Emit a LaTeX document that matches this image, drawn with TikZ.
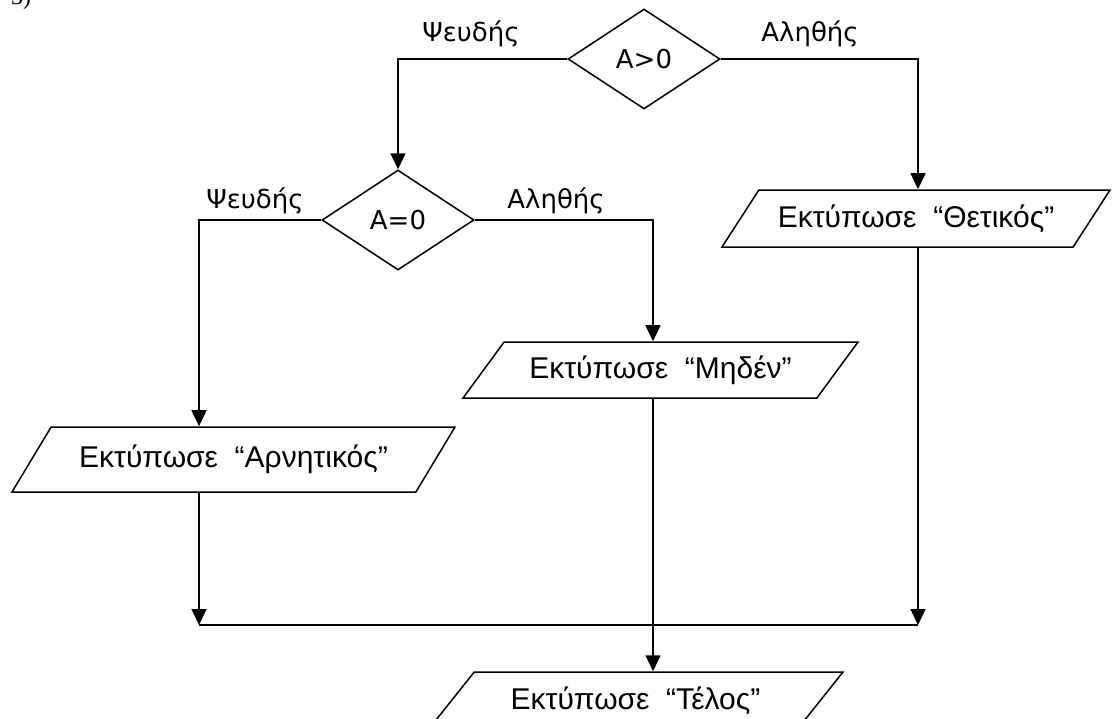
\documentclass[tikz,border=0pt]{standalone}
\usepackage{fontspec}
\setmainfont{Liberation Sans}
\newfontfamily\lblfont{DejaVu Sans}
\newfontfamily\numfont{Liberation Serif}
\usetikzlibrary{shapes.geometric,arrows.meta}
\begin{document}
\begin{tikzpicture}[x=1pt,y=-1pt,
  line/.style={line width=1.5pt},
  arr/.style={line, -{Triangle[length=16pt,width=15pt]}},
  dec/.style={diamond, draw, line width=1.5pt, minimum width=152pt, minimum height=100pt, inner sep=0pt, font=\lblfont\fontsize{26}{30}\selectfont},
  io/.style={trapezium, draw, line width=1.5pt, trapezium stretches body, inner sep=0pt, font=\fontsize{30}{34}\selectfont},
  lbl/.style={font=\lblfont\fontsize{26}{30}\selectfont, inner sep=0pt, anchor=base}]
\useasboundingbox (0,0) rectangle (1114,718);
\node[font=\numfont\fontsize{24}{28}\selectfont, anchor=base west, inner sep=0pt] (num) at (11,4) {3)};
\node[dec] (d1) at (644,59) {A>0};
\node[dec] (d2) at (398,220) {A=0};
\node[io, trapezium left angle=37, trapezium right angle=143, minimum width=388pt, minimum height=57pt] (th) at (916,218.5) {Εκτύπωσε\ \ “Θετικός”};
\node[io, trapezium left angle=36.4, trapezium right angle=143.6, minimum width=443pt, minimum height=65pt] (ar) at (233.5,459.5) {Εκτύπωσε\ \ “Αρνητικός”};
\node[io, trapezium left angle=35, trapezium right angle=145, minimum width=395pt, minimum height=56pt] (mz) at (660.5,370) {Εκτύπωσε\ \ “Μηδέν”};
\node[io, trapezium left angle=31, trapezium right angle=149, minimum width=415pt, minimum height=58pt] (te) at (635.5,701) {Εκτύπωσε\ \ “Τέλος”};
\node[lbl] (l1) at (471,41) {Ψευδής};
\node[lbl] (l2) at (810,41) {Αληθής};
\node[lbl] (l3) at (255,208) {Ψευδής};
\node[lbl] (l4) at (556,208) {Αληθής};
\coordinate (xL) at (199,0);
\coordinate (xM) at (653,0);
\coordinate (xR) at (918,0);
\coordinate (mg) at (0,625);
\draw[arr] (d1.west) -| (d2.north);
\draw[arr] (d1.east) -| (xR |- th.north);
\draw[arr] (d2.west) -| (xL |- ar.north);
\draw[arr] (d2.east) -| (xM |- mz.north);
\draw[arr] (xL |- ar.south) -- (xL |- mg);
\draw[arr] (xR |- th.south) -- (xR |- mg);
\draw[line] (xL |- mg) -- (xR |- mg);
\draw[arr] (xM |- mz.south) -- (xM |- te.north);
\end{tikzpicture}
\end{document}
